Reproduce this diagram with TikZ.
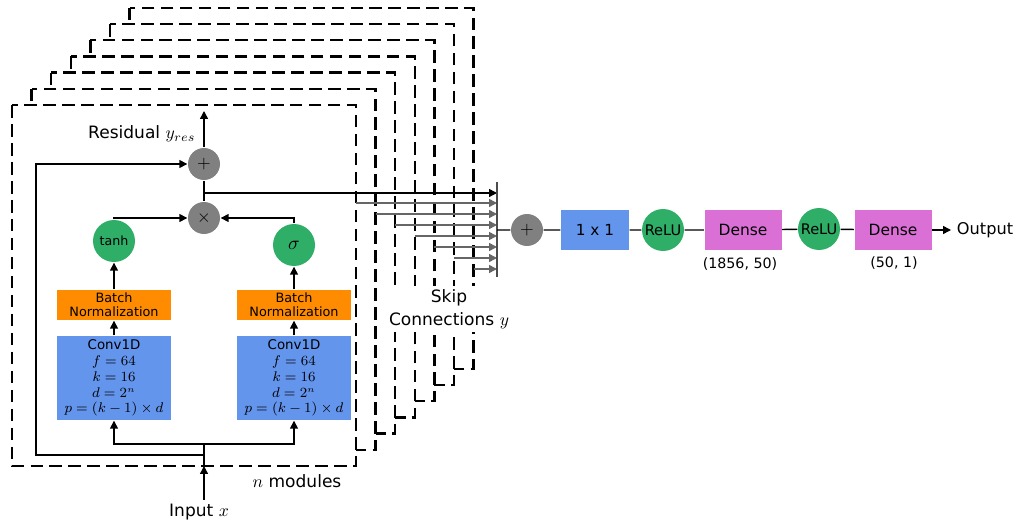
\documentclass[tikz,border=0pt]{standalone}
\usepackage{fontspec}
\setmainfont{DejaVu Sans}
\usetikzlibrary{arrows.meta,positioning}

\definecolor{opgray}{RGB}{128,128,128}
\definecolor{actgreen}{RGB}{46,174,102}
\definecolor{normorange}{RGB}{255,140,0}
\definecolor{convblue}{RGB}{100,149,237}
\definecolor{densepink}{RGB}{218,112,214}

\begin{document}
\begin{tikzpicture}[
  x = 0.02cm, y = -0.02cm, line width = 0.8pt,
  every node/.style = {inner sep = 0pt},
  module/.style = {draw, line width = 1.4pt, dash pattern = on 7.2pt off 3.6pt, fill = white},
  gate/.style = {circle, fill = opgray, minimum size = 0.64cm, font = \fontsize{10}{10}\selectfont},
  act/.style = {circle, fill = actgreen, minimum size = 0.84cm, font = \fontsize{7.2}{7.2}\selectfont},
  relu/.style = {act, font = \fontsize{8.3}{8.3}\selectfont},
  bnorm/.style = {fill = normorange, minimum width = 2.28cm, minimum height = 0.6cm, align = center, font = \fontsize{7.3}{7.8}\selectfont},
  conv/.style = {fill = convblue, minimum width = 2.28cm, minimum height = 1.68cm, align = center, font = \fontsize{7.6}{9}\selectfont},
  dense/.style = {fill = densepink, minimum width = 1.54cm, minimum height = 0.8cm, font = \fontsize{8.8}{8.8}\selectfont},
  lbl/.style = {font = \fontsize{9.7}{13}\selectfont, align = center},
  small/.style = {font = \fontsize{8.1}{8.1}\selectfont},
  arr/.style = {-{Triangle[length = 4.5pt, width = 4.5pt]}},
  skip/.style = {arr, draw = black!60},
  ]
  \useasboundingbox (0,0) rectangle (1016,523);

  \foreach \i in {6,5,...,0}
    \draw[module] ({12+19.6*\i},{105-16.2*\i}) rectangle ++(344,361);

  \node[gate] (plus) at (204,164) {$+$};
  \node[gate] (times) at (204,218) {$\times$};
  \node[act] (tanh) at (114,241) {tanh};
  \node[act, font = \fontsize{11}{11}\selectfont] (sig) at (294,245) {$\sigma$};
  \node[bnorm] (bnl) at (114,305) {Batch\\Normalization};
  \node[bnorm] (bnr) at (294,305) {Batch\\Normalization};
  \node[conv] (convl) at (114,378) {Conv1D\\$f=64$\\$k=16$\\$d=2^n$\\$p=(k-1)\times d$};
  \node[conv] (convr) at (294,378) {Conv1D\\$f=64$\\$k=16$\\$d=2^n$\\$p=(k-1)\times d$};

  \node[lbl, anchor = east] (res) at (196,134) {Residual $y_{res}$};
  \node[lbl] (in) at (199,512) {Input $x$};
  \node[lbl] (nmod) at (297,481) {$n$ modules};

  \coordinate (mbot) at (204,466);
  \coordinate (rjoin) at (204,455);
  \coordinate (split) at (204,444);
  \coordinate (resout) at (204,111);
  \coordinate (sk) at (204,193);
  \coordinate (bar) at (497,230);
  \coordinate (bartop) at (497,182);
  \coordinate (barbot) at (497,277);

  \draw[arr] ([yshift = 2pt]in.north -| mbot) -- (mbot);
  \draw (mbot) -- (split);
  \draw[arr] (split) -| (convl);
  \draw[arr] (split) -| (convr);
  \draw[arr] (rjoin) -- ++(-168,0) |- (plus);
  \draw[arr] (convl) -- (bnl);
  \draw[arr] (convr) -- (bnr);
  \draw[arr] (bnl) -- (tanh);
  \draw[arr] (bnr) -- (sig);
  \draw[arr] (tanh) |- (times);
  \draw[arr] (sig) |- (times);
  \draw (times) -- (plus);
  \draw[arr] (plus) -- (resout);

  \draw[arr] (sk) -- (sk -| bar);
  \foreach \i in {0,...,6}
    \draw[skip] ({356+19.6*\i},{203+11*\i}) coordinate (s\i) -- (s\i -| bar);
  \draw[line width = 1.2pt, black!70] (bartop) -- (barbot);

  \node[lbl, fill = white, inner sep = 2pt] (skiplbl) at (449,309) {Skip\\Connections $y$};

  \node[gate] (sum) at (527,230) {$+$};
  \node[fill = convblue, minimum width = 1.36cm, minimum height = 0.8cm, font = \fontsize{8.7}{8.7}\selectfont] (onebyone) at (595,230) {1 x 1};
  \node[relu] (relua) at (663,230) {ReLU};
  \node[dense] (densea) at (743,230) {Dense};
  \node[relu] (relub) at (819,229) {ReLU};
  \node[dense] (denseb) at (893,230) {Dense};
  \node[small] (dima) at (740,264) {(1856, 50)};
  \node[small] (dimb) at (894,263) {(50, 1)};
  \node[font = \fontsize{9.2}{9.2}\selectfont, anchor = west, inner xsep = 3pt] (out) at (951,230) {Output};

  \draw (bar) -- (sum) -- (onebyone) -- (relua) -- (densea) -- (relub) -- (denseb);
  \draw[arr] (denseb) -- (out);
\end{tikzpicture}
\end{document}
